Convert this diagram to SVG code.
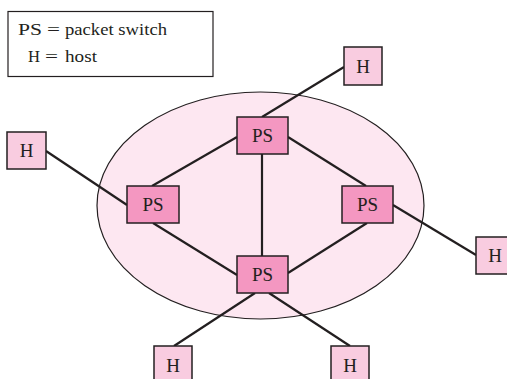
<svg xmlns="http://www.w3.org/2000/svg" width="507" height="379" viewBox="0 0 507 379">
<style>
.ps rect{fill:#f497c1;stroke:#231f20;stroke-width:1.5}
.h rect{fill:#f9cce0;stroke:#231f20;stroke-width:1.5}
text{font-family:"Liberation Serif","Times New Roman",serif;fill:#231f20}
.lbl{font-size:19px;text-anchor:middle}
.leg{font-size:17px}
#connectors line{stroke:#231f20;stroke-width:2.2}
</style>
<rect width="507" height="379" fill="#fff"/>
<g id="legend">
<rect x="8" y="11.5" width="205" height="65" fill="#fff" stroke="#231f20" stroke-width="1.2"/>
<text class="leg" y="35"><tspan x="18" textLength="24" lengthAdjust="spacingAndGlyphs">PS</tspan><tspan x="47" textLength="13" lengthAdjust="spacingAndGlyphs">=</tspan><tspan x="65" textLength="102" lengthAdjust="spacingAndGlyphs">packet switch</tspan></text>
<text class="leg" y="62"><tspan x="28" textLength="12" lengthAdjust="spacingAndGlyphs">H</tspan><tspan x="45" textLength="13" lengthAdjust="spacingAndGlyphs">=</tspan><tspan x="65" textLength="32" lengthAdjust="spacingAndGlyphs">host</tspan></text>
</g>
<g id="network">
<ellipse cx="260.5" cy="205.5" rx="163.5" ry="113.5" fill="#fde7f1" stroke="#231f20" stroke-width="1.2"/>
</g>
<g id="connectors">
<line x1="262" y1="154" x2="262" y2="256"/>
<line x1="288" y1="137" x2="366" y2="186"/>
<line x1="237" y1="137" x2="152" y2="186"/>
<line x1="153" y1="223" x2="237" y2="275"/>
<line x1="367" y1="223" x2="288" y2="273"/>
<line x1="393" y1="205" x2="476" y2="255"/>
<line x1="262" y1="117" x2="344" y2="67"/>
<line x1="46" y1="151" x2="127" y2="205"/>
<line x1="255" y1="293" x2="174" y2="346"/>
<line x1="269" y1="293" x2="350" y2="346"/>
</g>
<g id="ps-top" class="ps"><rect x="237" y="117" width="51" height="37"/><text class="lbl" x="262.5" y="142">PS</text></g>
<g id="ps-left" class="ps"><rect x="127" y="186" width="52" height="37"/><text class="lbl" x="153" y="211">PS</text></g>
<g id="ps-right" class="ps"><rect x="342" y="186" width="51" height="37"/><text class="lbl" x="367.5" y="211">PS</text></g>
<g id="ps-bottom" class="ps"><rect x="237" y="256" width="51" height="37"/><text class="lbl" x="262.5" y="281">PS</text></g>
<g id="h-topright" class="h"><rect x="344" y="47" width="38" height="38"/><text class="lbl" x="363" y="73">H</text></g>
<g id="h-left" class="h"><rect x="7" y="132" width="39" height="37"/><text class="lbl" x="26.5" y="157">H</text></g>
<g id="h-right" class="h"><rect x="476" y="237" width="38" height="37"/><text class="lbl" x="495" y="262">H</text></g>
<g id="h-bottomleft" class="h"><rect x="154" y="346" width="38" height="38"/><text class="lbl" x="173" y="372">H</text></g>
<g id="h-bottomright" class="h"><rect x="331" y="346" width="38" height="38"/><text class="lbl" x="350" y="372">H</text></g>
</svg>
